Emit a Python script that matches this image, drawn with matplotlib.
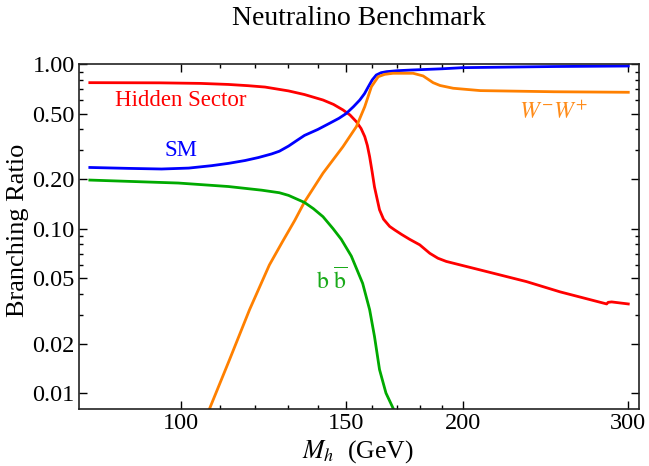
import numpy as np
import matplotlib
matplotlib.use('Agg')
import matplotlib.pyplot as plt
from matplotlib.ticker import FixedLocator, NullFormatter

plt.rcParams['font.family'] = 'serif'
plt.rcParams['font.serif'] = ['Liberation Serif', 'DejaVu Serif']
plt.rcParams['mathtext.fontset'] = 'stix'

# branching ratios (M_h in GeV)
hidden_x = [80, 95, 105, 112.4, 118, 123.0, 130.3, 135.5, 141.8,
            145.5, 148.9, 151.5, 153.9, 155.7, 157.1, 158.1, 159, 160,
            160.9, 162, 162.9, 164.5, 167.0, 169.1, 172, 175.4, 179.8,
            184.3, 188, 191.9, 198.3, 208.6, 233.6, 253.8, 284.5, 285.5,
            288, 300]
hidden_y = [0.77, 0.768, 0.762, 0.751, 0.738, 0.724, 0.686, 0.652,
            0.604, 0.568, 0.526, 0.49, 0.446, 0.405, 0.362, 0.32, 0.273,
            0.22, 0.179, 0.150, 0.130, 0.114, 0.103, 0.098, 0.092, 0.086,
            0.0796, 0.0707, 0.066, 0.0631, 0.0602, 0.0560, 0.0476, 0.0412,
            0.0348, 0.0356, 0.0358, 0.0348]

sm_x = [80, 88, 95.4, 102, 107.9, 112.5, 117.1, 121, 125, 127.4, 130.3,
        133, 135.5, 140, 144.1, 147.5, 150.1, 152.8, 155.2, 157, 158.5,
        160, 161.6, 163.5, 165.7, 170, 176.9, 190, 200, 250, 300]
sm_y = [0.235, 0.232, 0.230, 0.233, 0.241, 0.249, 0.259, 0.270, 0.284,
        0.295, 0.317, 0.343, 0.368, 0.40, 0.436, 0.468, 0.50, 0.55, 0.604,
        0.66, 0.728, 0.80, 0.857, 0.885, 0.898, 0.91, 0.92, 0.935, 0.95,
        0.965, 0.972]

ww_x = [107.3, 112.7, 118.4, 124.3, 128.5, 132.3, 135.5, 141.8, 148.9,
        153.9, 157.1, 159.7, 162.4, 165, 168.4, 176.9, 181.3, 185.8, 189,
        195.2, 208.6, 250, 300]
ww_y = [0.0080, 0.0159, 0.0321, 0.0600, 0.084, 0.112, 0.145, 0.217, 0.314,
        0.416, 0.55, 0.728, 0.837, 0.865, 0.878, 0.878, 0.846, 0.77, 0.74,
        0.712, 0.689, 0.678, 0.673]

bb_x = [80, 99.4, 112.4, 122, 127.4, 130.3, 135.5, 138.5, 141.8, 145.3,
        148.3, 152.0, 156.3, 159.0, 160.9, 162.9, 165.5, 168.4, 169]
bb_y = [0.197, 0.189, 0.180, 0.171, 0.165, 0.159, 0.144, 0.132, 0.118,
        0.100, 0.086, 0.068, 0.0464, 0.0321, 0.0221, 0.0139, 0.0100,
        0.0081, 0.0076]

x_ticks = [100, 150, 200, 300]
x_minor = [110, 120, 130, 140, 160, 170, 180, 190]
y_ticks = [0.01, 0.02, 0.05, 0.1, 0.2, 0.5, 1.0]
y_minor = [0.03, 0.04, 0.06, 0.07, 0.08, 0.09, 0.3, 0.4, 0.6, 0.7, 0.8, 0.9]

fig, ax = plt.subplots(figsize=(6.49, 4.66), dpi=100)
fig.subplots_adjust(left=0.1217, right=0.9846, bottom=0.1223, top=0.8627)

ax.plot(hidden_x, hidden_y, color='#ff0000', lw=2)
ax.plot(sm_x, sm_y, color='#0000ff', lw=2)
ax.plot(ww_x, ww_y, color='#ff8000', lw=2)
ax.plot(bb_x, bb_y, color='#00aa00', lw=2)

ax.set_xscale('log')
ax.set_yscale('log')
ax.set(xlim=(77.9, 308), ylim=(0.008, 1.0))

ax.xaxis.set_major_locator(FixedLocator(x_ticks))
ax.xaxis.set_minor_locator(FixedLocator(x_minor))
ax.xaxis.set_minor_formatter(NullFormatter())
ax.set_xticklabels([str(v) for v in x_ticks])
ax.yaxis.set_major_locator(FixedLocator(y_ticks))
ax.yaxis.set_minor_locator(FixedLocator(y_minor))
ax.yaxis.set_minor_formatter(NullFormatter())
ax.set_yticklabels(['%.2f' % v for v in y_ticks])

ax.tick_params(which='both', direction='in', top=True, right=True,
               labelsize=17.5, width=1, pad=3)
ax.tick_params(which='major', length=6)
ax.tick_params(which='minor', length=3)
for s in ax.spines.values():
    s.set_linewidth(1.2)
    s.set_color('#222222')

ax.text(100.0, 0.604, 'Hidden Sector', color='#ff0000', fontsize=16.5,
        ha='center', va='center')
ax.text(100.0, 0.30, 'SM', color='#0000ff', fontsize=16.5,
        ha='center', va='center')
ax.text(250, 0.51, r'$W^{-}W^{+}$', color='#ff8c1a', fontsize=17,
        ha='center', va='center')
ax.text(145.0, 0.048, r'$\mathrm{b}\ \overline{\mathrm{b}}$',
        color='#1aaa1a', fontsize=17, ha='center', va='center')

fig.text(0.553, 0.961, 'Neutralino Benchmark', fontsize=20,
         ha='center', va='center')
fig.text(0.027, 0.506, 'Branching Ratio', fontsize=19, rotation=90,
         ha='center', va='center')
fig.text(0.552, 0.032, r'$M_h$  (GeV)', fontsize=18.5,
         ha='center', va='center')

fig.savefig('out.png', dpi=100)
